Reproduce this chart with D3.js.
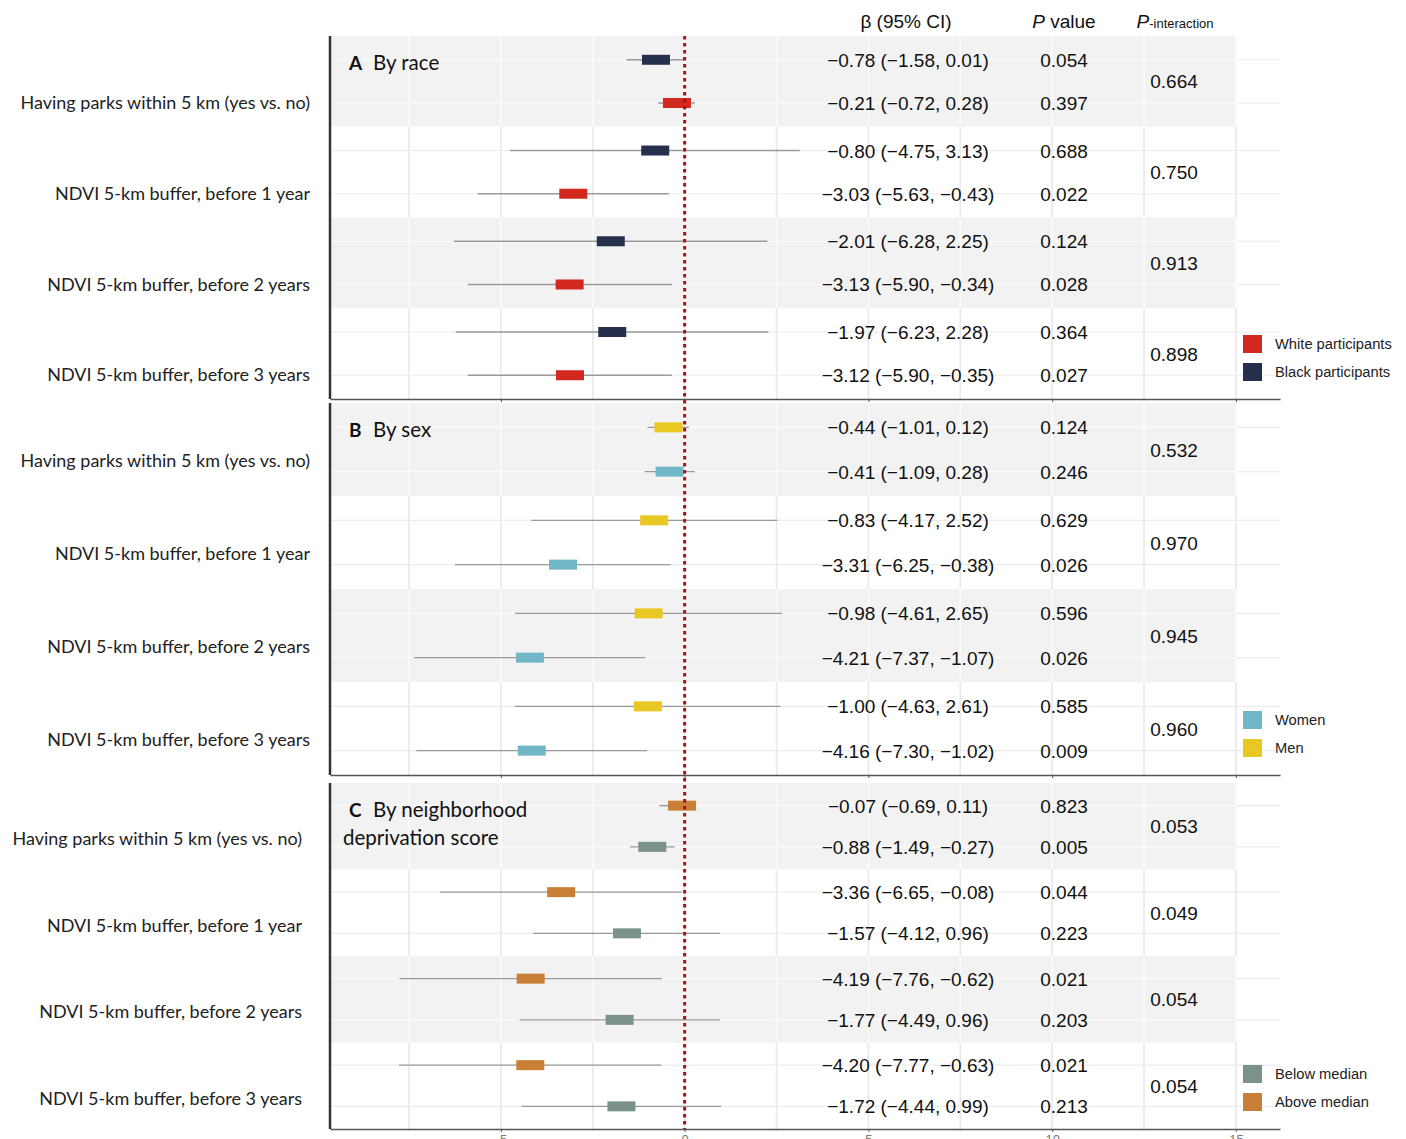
<!DOCTYPE html>
<html>
<head>
<meta charset="utf-8">
<script src="https://cdn.jsdelivr.net/npm/d3@7/dist/d3.min.js"></script>
<style>
  html, body { margin: 0; padding: 0; background: #fff; }
  svg { display: block; }
</style>
</head>
<body>
<svg id="chart" width="1406" height="1139"></svg>
<script>
// ---------------- DATA ----------------
const exposures = [
  "Having parks within 5 km (yes vs. no)",
  "NDVI 5-km buffer, before 1 year",
  "NDVI 5-km buffer, before 2 years",
  "NDVI 5-km buffer, before 3 years"
];
const xTicks = [-5, 0, 5, 10, 15];

// Panel A: by race (first row = Black, second row = White)
const raceBlackEst = [-0.78, -0.80, -2.01, -1.97];
const raceBlackLo  = [-1.58, -4.75, -6.28, -6.23];
const raceBlackHi  = [0.01, 3.13, 2.25, 2.28];
const raceBlackP   = ["0.054", "0.688", "0.124", "0.364"];
const raceWhiteEst = [-0.21, -3.03, -3.13, -3.12];
const raceWhiteLo  = [-0.72, -5.63, -5.90, -5.90];
const raceWhiteHi  = [0.28, -0.43, -0.34, -0.35];
const raceWhiteP   = ["0.397", "0.022", "0.028", "0.027"];
const raceInteraction = ["0.664", "0.750", "0.913", "0.898"];

// Panel B: by sex (first row = Men, second row = Women)
const sexMenEst = [-0.44, -0.83, -0.98, -1.00];
const sexMenLo  = [-1.01, -4.17, -4.61, -4.63];
const sexMenHi  = [0.12, 2.52, 2.65, 2.61];
const sexMenP   = ["0.124", "0.629", "0.596", "0.585"];
const sexWomenEst = [-0.41, -3.31, -4.21, -4.16];
const sexWomenLo  = [-1.09, -6.25, -7.37, -7.30];
const sexWomenHi  = [0.28, -0.38, -1.07, -1.02];
const sexWomenP   = ["0.246", "0.026", "0.026", "0.009"];
const sexInteraction = ["0.532", "0.970", "0.945", "0.960"];

// Panel C: by neighborhood deprivation (first row = Above median, second = Below median)
const depAboveEst = [-0.07, -3.36, -4.19, -4.20];
const depAboveLo  = [-0.69, -6.65, -7.76, -7.77];
const depAboveHi  = [0.11, -0.08, -0.62, -0.63];
const depAboveP   = ["0.823", "0.044", "0.021", "0.021"];
const depBelowEst = [-0.88, -1.57, -1.77, -1.72];
const depBelowLo  = [-1.49, -4.12, -4.49, -4.44];
const depBelowHi  = [-0.27, 0.96, 0.96, 0.99];
const depBelowP   = ["0.005", "0.223", "0.203", "0.213"];
const depInteraction = ["0.053", "0.049", "0.054", "0.054"];

const panelLetters = ["A", "B", "C"];
const panelTitles = [["By race"], ["By sex"], ["By neighborhood", "deprivation score"]];
const legendNames = [
  ["White participants", "Black participants"],
  ["Women", "Men"],
  ["Below median", "Above median"]
];

// ---------------- BUILD ----------------
const colors = {
  black: "#27304a", white: "#d3281d",
  men: "#eac824", women: "#72b7c7",
  above: "#c97f36", below: "#7b928a"
};

function series(est, lo, hi, p, color) {
  return est.map((e, i) => ({ row: i, est: e, lo: lo[i], hi: hi[i], p: p[i], color }));
}

const panels = [
  { groups: [series(raceBlackEst, raceBlackLo, raceBlackHi, raceBlackP, colors.black),
             series(raceWhiteEst, raceWhiteLo, raceWhiteHi, raceWhiteP, colors.white)],
    inter: raceInteraction, legendColors: [colors.white, colors.black] },
  { groups: [series(sexMenEst, sexMenLo, sexMenHi, sexMenP, colors.men),
             series(sexWomenEst, sexWomenLo, sexWomenHi, sexWomenP, colors.women)],
    inter: sexInteraction, legendColors: [colors.women, colors.men] },
  { groups: [series(depAboveEst, depAboveLo, depAboveHi, depAboveP, colors.above),
             series(depBelowEst, depBelowLo, depBelowHi, depBelowP, colors.below)],
    inter: depInteraction, legendColors: [colors.below, colors.above] }
];

// layout
const panelTop = [36, 403, 783];
const panelBottom = [399, 775, 1129];
const labelRight = [310, 310, 302];
const labelFrac = [0.74, 0.62, 0.65];
const plotLeft = 330, plotRight = 1280;

const svg = d3.select("#chart");
const x = d3.scaleLinear().domain([-9.65, 16.2]).range([plotLeft, plotRight]);
const bandRight = x(15);

const tableFont = "'Liberation Sans', Arial, sans-serif";
const labelFont = "Lato, 'Open Sans', sans-serif";
const fmt = v => (v < 0 ? "\u2212" : "") + Math.abs(v).toFixed(2);

// header
const hdr = svg.append("g").attr("font-family", tableFont).attr("fill", "#111");
hdr.append("text").attr("x", 906).attr("y", 28).attr("text-anchor", "middle")
  .attr("font-size", 19).text("\u03B2 (95% CI)");
const pv = hdr.append("text").attr("x", 1064).attr("y", 28).attr("text-anchor", "middle").attr("font-size", 19);
pv.append("tspan").attr("font-style", "italic").text("P");
pv.append("tspan").text(" value");
const pi = hdr.append("text").attr("x", 1175).attr("y", 28).attr("text-anchor", "middle");
pi.append("tspan").attr("font-style", "italic").attr("font-size", 19).text("P");
pi.append("tspan").attr("font-size", 13).text("-interaction");

panels.forEach((P, k) => {
  const g = svg.append("g");
  const top = panelTop[k], bot = panelBottom[k];
  const yRow = d3.scaleBand().domain(d3.range(exposures.length)).range([top, bot]);
  const ySub = d3.scalePoint().domain([0, 1]).range([0, yRow.bandwidth()]).padding(0.55);
  const yOf = (row, sub) => yRow(row) + ySub(sub);

  // bands
  exposures.forEach((_, r) => {
    const shaded = r % 2 === 0;
    const y0 = yRow(r), h = yRow.bandwidth();
    if (shaded) {
      g.append("rect").attr("x", plotLeft).attr("y", y0).attr("width", bandRight - plotLeft)
        .attr("height", h).attr("fill", "#f2f2f2");
    }
    const gridVals = d3.range(-7.5, 16, 2.5);
    gridVals.forEach(v => {
      const xv = x(v);
      g.append("line").attr("x1", xv).attr("x2", xv).attr("y1", y0).attr("y2", y0 + h)
        .attr("stroke", shaded && xv <= bandRight + 0.5 ? "#fbfbfb" : "#e8e8e8")
        .attr("stroke-width", 1.6);
    });
    [0, 1].forEach(s => {
      const yy = yOf(r, s);
      if (shaded) {
        g.append("line").attr("x1", plotLeft).attr("x2", bandRight).attr("y1", yy).attr("y2", yy)
          .attr("stroke", "#fbfbfb").attr("stroke-width", 1.2);
        g.append("line").attr("x1", bandRight).attr("x2", plotRight).attr("y1", yy).attr("y2", yy)
          .attr("stroke", "#ececec").attr("stroke-width", 1.2);
      } else {
        g.append("line").attr("x1", plotLeft).attr("x2", plotRight).attr("y1", yy).attr("y2", yy)
          .attr("stroke", "#ececec").attr("stroke-width", 1.2);
      }
    });
  });

  // exposure labels
  exposures.forEach((lab, r) => {
    g.append("text").attr("x", labelRight[k]).attr("y", yRow(r) + yRow.bandwidth() * labelFrac[k] + 6)
      .attr("text-anchor", "end").attr("font-family", labelFont).attr("font-size", 18)
      .attr("fill", "#222").text(lab);
  });

  // marks
  P.groups.forEach((ser, s) => {
    ser.forEach(d => {
      const yy = yOf(d.row, s);
      g.append("line").attr("x1", x(d.lo)).attr("x2", x(d.hi)).attr("y1", yy).attr("y2", yy)
        .attr("stroke", "#9a9a9a").attr("stroke-width", 1.4);
      g.append("rect").attr("x", x(d.est) - 14).attr("y", yy - 5).attr("width", 28).attr("height", 10)
        .attr("fill", d.color);
      g.append("text").attr("x", 908).attr("y", yy + 7).attr("text-anchor", "middle")
        .attr("font-family", tableFont).attr("font-size", 19).attr("fill", "#111")
        .text(`${fmt(d.est)} (${fmt(d.lo)}, ${fmt(d.hi)})`);
      g.append("text").attr("x", 1064).attr("y", yy + 7).attr("text-anchor", "middle")
        .attr("font-family", tableFont).attr("font-size", 19).attr("fill", "#111").text(d.p);
    });
  });
  P.inter.forEach((v, r) => {
    g.append("text").attr("x", 1174).attr("y", yRow(r) + yRow.bandwidth() / 2 + 7)
      .attr("text-anchor", "middle").attr("font-family", tableFont).attr("font-size", 19)
      .attr("fill", "#111").text(v);
  });

  // panel title
  const titleLines = panelTitles[k];
  const tx = 349, ty = top + 34;
  g.append("text").attr("x", tx).attr("y", ty).attr("font-family", labelFont).attr("font-size", 19)
    .attr("font-weight", "bold").attr("fill", "#111").text(panelLetters[k]);
  g.append("text").attr("x", tx + 24).attr("y", ty).attr("font-family", labelFont).attr("font-size", 20.5)
    .attr("fill", "#111").text(titleLines[0]);
  if (titleLines[1]) {
    g.append("text").attr("x", tx - 6).attr("y", ty + 28).attr("font-family", labelFont).attr("font-size", 20.5)
      .attr("fill", "#111").text(titleLines[1]);
  }

  // axis
  const axis = d3.axisBottom(x).tickValues(xTicks).tickSize(3).tickSizeOuter(0)
    .tickFormat(k === 2 ? (d => d < 0 ? "-" + Math.abs(d) : String(d)) : () => "");
  const ag = g.append("g").attr("transform", `translate(0,${bot})`).call(axis);
  ag.select(".domain").attr("stroke", "#555").attr("stroke-width", 1.5);
  ag.selectAll(".tick line").attr("stroke", "#555");
  ag.selectAll(".tick text").attr("fill", "#777").attr("font-size", 13).attr("font-family", tableFont);

  // left border
  g.append("line").attr("x1", plotLeft).attr("x2", plotLeft).attr("y1", top).attr("y2", bot)
    .attr("stroke", "#333").attr("stroke-width", 2.5);

  // legend
  const lg = g.append("g");
  const ly0 = bot - 64;
  legendNames[k].forEach((name, i) => {
    const yy = ly0 + i * 28;
    lg.append("rect").attr("x", 1243).attr("y", yy).attr("width", 19).attr("height", 18)
      .attr("fill", P.legendColors[i]);
    lg.append("text").attr("x", 1275).attr("y", yy + 14).attr("font-family", tableFont)
      .attr("font-size", 14.7).attr("fill", "#222").text(name);
  });
});

// zero reference line
svg.append("line").attr("x1", x(0)).attr("x2", x(0)).attr("y1", panelTop[0]).attr("y2", panelBottom[2])
  .attr("stroke", "#a3151a").attr("stroke-width", 3).attr("stroke-dasharray", "3.5,3.5");
</script>
</body>
</html>
